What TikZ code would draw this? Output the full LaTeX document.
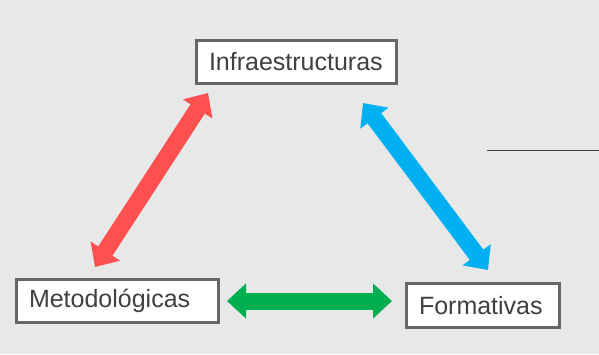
\documentclass[tikz,border=0pt]{standalone}
\usepackage{fontspec}
\setmainfont{Liberation Sans}
\usetikzlibrary{arrows.meta}
\definecolor{bgc}{HTML}{E8E8E8}
\definecolor{boxc}{HTML}{666666}
\definecolor{txtc}{HTML}{404040}
\definecolor{redc}{HTML}{FF5050}
\definecolor{bluec}{HTML}{00B0F0}
\definecolor{greenc}{HTML}{00B050}
\tikzset{
  lbox/.style={draw=boxc, fill=white, line width=3pt, rectangle, anchor=west,
    inner xsep=13pt, inner ysep=0pt, align=left, text=txtc,
    font=\fontsize{25}{28}\selectfont},
  bigarrow/.style={line width=17pt, {Triangle[width=34pt,length=19pt]}-{Triangle[width=34pt,length=19pt]}},
}
\begin{document}
\begin{tikzpicture}[x=1pt,y=-1pt]
\fill[bgc] (0,0) rectangle (599,354);
\useasboundingbox (0,0) rectangle (599,354);
% boxes
\node[lbox, text width=174pt, minimum height=43pt] (infra) at (194.5,62) {Infraestructuras};
\node[lbox, text width=176pt, minimum height=43pt] (metod) at (14.5,301) {Metodológicas};
\node[lbox, text width=127pt, minimum height=44pt] (form) at (404.5,305.5) {Formativas};
% arrow end points
\coordinate (r1) at (208,93);
\coordinate (r2) at (95,267);
\coordinate (b1) at (363,103);
\coordinate (b2) at (488,270);
\coordinate (g1) at (227,301);
\coordinate (g2) at (392,301);
\draw[bigarrow, redc] (r2) -- (r1);
\draw[bigarrow, bluec] (b1) -- (b2);
\draw[bigarrow, greenc] (g1) -- (g2);
% line
\coordinate (l1) at (487,150.5);
\coordinate (l2) at (599,150.5);
\draw[line width=1.2pt, color=txtc] (l1) -- (l2);
\end{tikzpicture}
\end{document}
